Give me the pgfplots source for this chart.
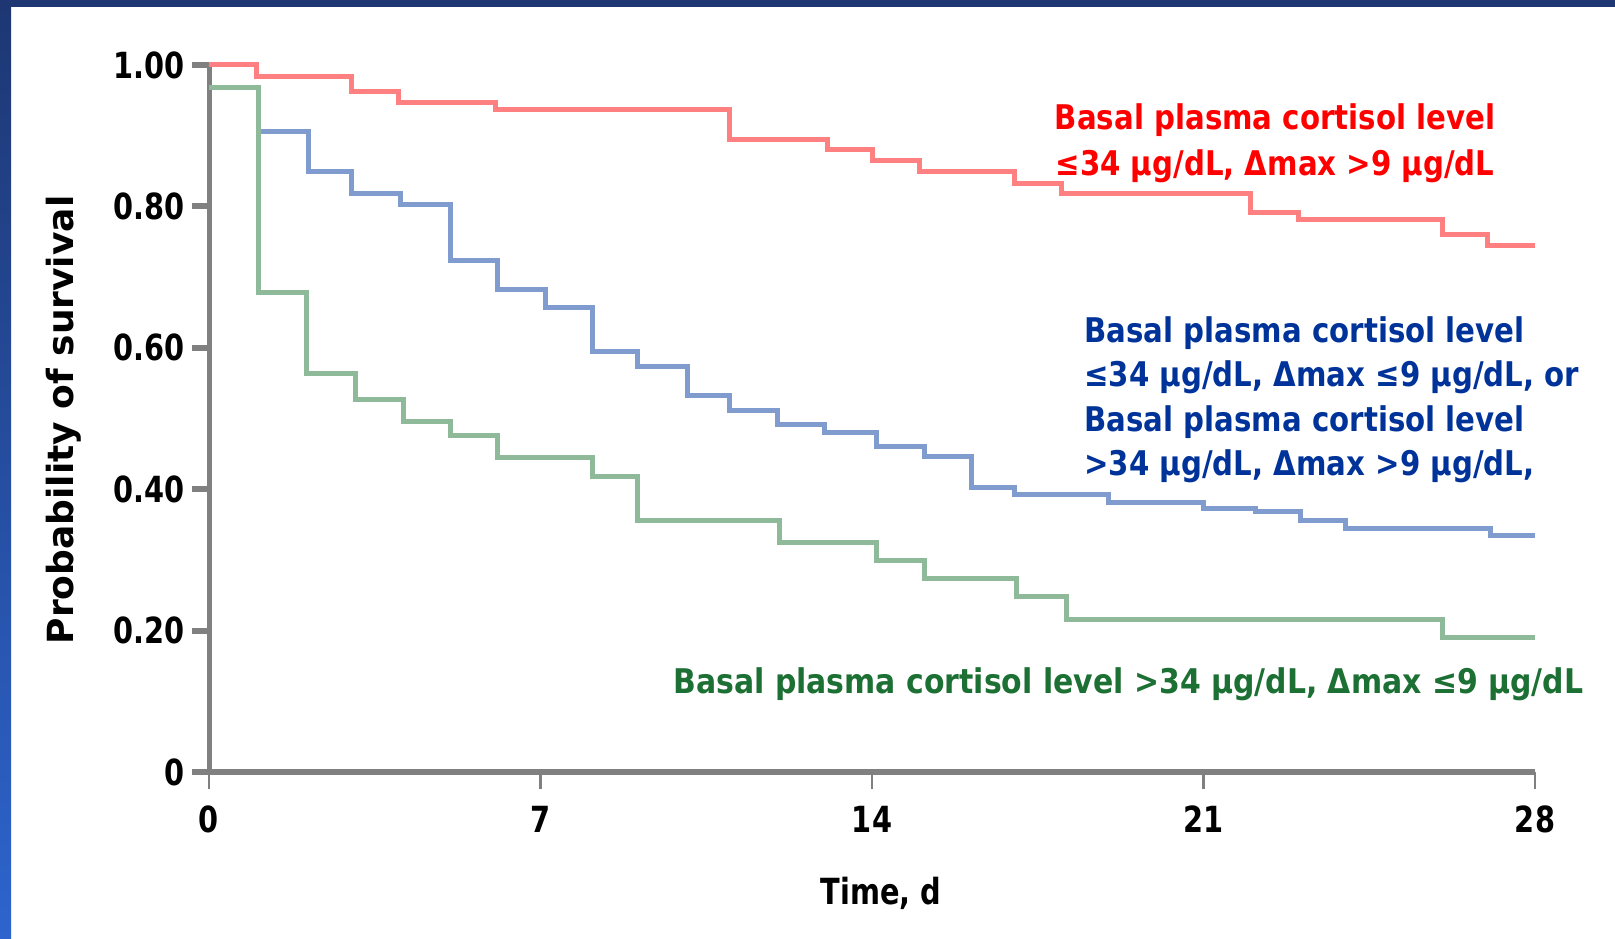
\documentclass[border=0pt]{standalone}
\usepackage{pgfplots}
\pgfplotsset{compat=1.18}
\usepackage{fontspec}
\setmainfont{DejaVu Sans}
\newfontfamily\cfont[FakeStretch=0.8]{DejaVu Sans}
\newfontfamily\afont[FakeStretch=0.86]{DejaVu Sans}
\newfontfamily\gfont[FakeStretch=0.88]{DejaVu Sans}
\definecolor{navy}{RGB}{30,55,115}
\definecolor{brightblue}{RGB}{45,100,205}
\definecolor{axgray}{RGB}{128,128,128}
\definecolor{lred}{RGB}{255,128,128}
\definecolor{lblue}{RGB}{128,155,205}
\definecolor{lgreen}{RGB}{143,186,153}
\definecolor{tred}{RGB}{255,0,0}
\definecolor{tblue}{RGB}{0,51,153}
\definecolor{tgreen}{RGB}{28,112,52}
\begin{document}
\begin{tikzpicture}
\path[use as bounding box, fill=white] (0,0) rectangle (807.5pt,469pt);
\fill[navy] (0,465.5pt) rectangle (807.5pt,469pt);
\shade[top color=navy, bottom color=brightblue] (0,0) rectangle (5.5pt,469pt);
\begin{axis}[
  at={(104.5pt,83pt)}, anchor=south west,
  scale only axis, width=663pt, height=353.5pt,
  xmin=0, xmax=28, ymin=0, ymax=1,
  clip=false,
  axis lines*=left,
  x axis line style={draw=axgray, line width=3pt},
  y axis line style={draw=axgray, line width=2.5pt},
  xtick={0,7,14,21,28},
  xticklabels={0,7,14,21,28},
  ytick={0,0.2,0.4,0.6,0.8,1},
  yticklabels={0,0.20,0.40,0.60,0.80,1.00},
  tick align=outside,
  major tick length=8.5pt,
  xtick style={draw=axgray, line width=1.2pt},
  ytick style={draw=axgray, line width=3pt},
  tick label style={font=\cfont\bfseries\fontsize{18}{18}\selectfont, text=black},
  xticklabel style={yshift=-5pt},
  xlabel={Time, d},
  ylabel={Probability of survival},
  xlabel style={at={(axis description cs:0.5068,-0.188)}, anchor=base, font=\cfont\bfseries\fontsize{18}{18}\selectfont},
  ylabel style={at={(axis description cs:-0.1023,0.498)}, anchor=base, font=\bfseries\fontsize{18}{18}\selectfont},
]
\addplot[const plot, draw=lred, line width=2.5pt] coordinates {
(0,1.0) (1,0.984) (3,0.963) (4,0.947) (6.05,0.937) (11,0.895) (13.05,0.880) (14,0.865) (15,0.849) (17,0.833) (18,0.818) (22,0.792) (23,0.782) (26.05,0.760) (27,0.745) (28,0.745)};
\addplot[const plot, draw=lblue, line width=2.5pt] coordinates {
(0,0.968) (1.05,0.906) (2.1,0.849) (3,0.818) (4.05,0.802) (5.1,0.724) (6.1,0.683) (7.1,0.657) (8.1,0.595) (9.05,0.574) (10.1,0.533) (11,0.512) (12,0.492) (13,0.480) (14.1,0.460) (15.1,0.446) (16.1,0.403) (17,0.392) (19,0.381) (21,0.372) (22.1,0.368) (23.05,0.356) (24,0.345) (27.05,0.335) (28,0.335)};
\addplot[const plot, draw=lgreen, line width=2.5pt] coordinates {
(0,0.968) (1.05,0.678) (2.05,0.564) (3.1,0.527) (4.1,0.496) (5.1,0.476) (6.1,0.445) (8.1,0.418) (9.05,0.356) (12.05,0.325) (14.1,0.299) (15.1,0.273) (17.05,0.248) (18.1,0.216) (26.05,0.190) (28,0.190)};
\end{axis}
\begin{scope}[every node/.style={inner sep=0pt, font=\afont\bfseries\fontsize{17}{17}\selectfont}]
\node[text=tred, anchor=base] at (637.5pt,404pt) {Basal plasma cortisol level};
\node[text=tred, anchor=base] at (637.5pt,381pt) {≤34 µg/dL, Δmax >9 µg/dL};
\node[text=tblue, anchor=base west] at (542pt,297.5pt) {Basal plasma cortisol level};
\node[text=tblue, anchor=base west] at (542pt,275.5pt) {≤34 µg/dL, Δmax ≤9 µg/dL, or};
\node[text=tblue, anchor=base west] at (542pt,253pt) {Basal plasma cortisol level};
\node[text=tblue, anchor=base west] at (542pt,231.5pt) {>34 µg/dL, Δmax >9 µg/dL,};
\node[text=tgreen, anchor=base west, font=\gfont\bfseries\fontsize{17}{17}\selectfont] at (336.5pt,122.5pt) {Basal plasma cortisol level >34 µg/dL, Δmax ≤9 µg/dL};
\end{scope}
\end{tikzpicture}
\end{document}
